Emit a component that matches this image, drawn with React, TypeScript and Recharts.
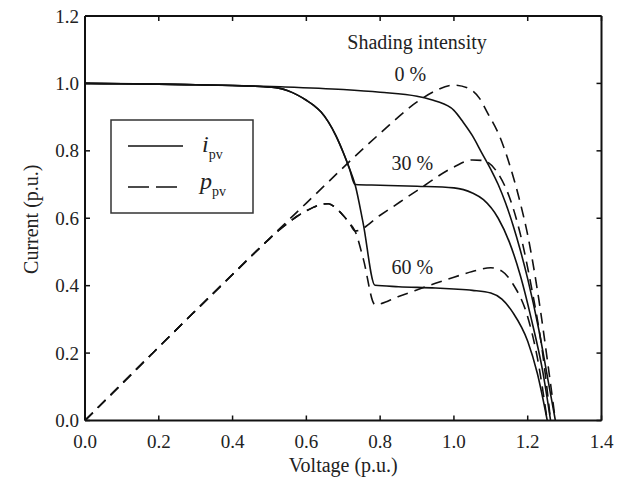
import React from "react";
import { LineChart, Line, XAxis, YAxis, ReferenceDot } from "recharts";

// voltage (p.u.), value pairs
const kneeI = [
  [0, 1.0], [0.1, 0.999], [0.2, 0.998], [0.3, 0.996], [0.4, 0.994], [0.45, 0.992],
  [0.5, 0.989], [0.525, 0.986], [0.55, 0.978], [0.575, 0.966], [0.6, 0.95], [0.62, 0.935],
  [0.64, 0.915], [0.66, 0.885], [0.68, 0.845], [0.7, 0.795], [0.716, 0.75], [0.732, 0.7],
];
const kneeP = [
  [0, 0], [0.1, 0.109], [0.2, 0.218], [0.3, 0.326], [0.4, 0.433], [0.45, 0.487],
  [0.5, 0.539], [0.525, 0.564], [0.55, 0.586], [0.575, 0.606], [0.6, 0.622], [0.62, 0.633],
  [0.64, 0.641], [0.66, 0.643], [0.68, 0.63], [0.7, 0.608], [0.716, 0.587], [0.732, 0.562],
];

const i0 = [
  [0, 1.0], [0.2, 0.998], [0.4, 0.994], [0.53, 0.99], [0.7, 0.982], [0.8, 0.974],
  [0.9, 0.962], [0.95, 0.948], [1.0, 0.92], [1.025, 0.885], [1.05, 0.845], [1.075, 0.795],
  [1.1, 0.745], [1.12, 0.7], [1.14, 0.645], [1.16, 0.58], [1.18, 0.505], [1.2, 0.42],
  [1.23, 0.27], [1.255, 0.12], [1.275, 0],
];
const i30 = [
  ...kneeI,
  [0.8, 0.698], [0.9, 0.695], [1.0, 0.69], [1.05, 0.675], [1.08, 0.655], [1.12, 0.6],
  [1.15, 0.53], [1.18, 0.43], [1.21, 0.3], [1.24, 0.15], [1.262, 0],
];
const i60 = [
  ...kneeI,
  [0.754, 0.585], [0.786, 0.401], [0.85, 0.397], [0.95, 0.393], [1.0, 0.39], [1.05, 0.386],
  [1.1, 0.378], [1.13, 0.36], [1.16, 0.32], [1.2, 0.235], [1.226, 0.14], [1.253, 0],
];

const p0 = [
  [0, 0], [0.2, 0.218], [0.4, 0.434], [0.6, 0.645], [0.8, 0.852], [0.9, 0.945],
  [0.95, 0.978], [1.0, 0.995], [1.04, 0.985], [1.07, 0.955], [1.09, 0.915], [1.125, 0.84],
  [1.152, 0.755], [1.18, 0.645], [1.2, 0.55], [1.23, 0.36], [1.255, 0.165], [1.275, 0],
];
const p30 = [
  ...kneeP,
  [0.8, 0.609], [0.9, 0.682], [1.0, 0.752], [1.05, 0.773], [1.08, 0.771], [1.12, 0.732],
  [1.15, 0.664], [1.18, 0.553], [1.21, 0.396], [1.24, 0.203], [1.262, 0],
];
const p60 = [
  ...kneeP,
  [0.754, 0.481], [0.786, 0.344], [0.85, 0.368], [0.95, 0.407], [1.0, 0.425], [1.05, 0.442],
  [1.1, 0.453], [1.13, 0.443], [1.16, 0.405], [1.2, 0.307], [1.226, 0.187], [1.253, 0],
];

const xTicks = [0, 0.2, 0.4, 0.6, 0.8, 1.0, 1.2, 1.4];
const yTicks = [0, 0.2, 0.4, 0.6, 0.8, 1.0, 1.2];
const shadeLabels = [
  { text: "0 %", v: 0.882, y: 1.027 },
  { text: "30 %", v: 0.887, y: 0.765 },
  { text: "60 %", v: 0.887, y: 0.455 },
];

const toRows = (pts: number[][]) => pts.map(([v, y]) => ({ v, y }));

const serif = '"Liberation Serif", "Times New Roman", serif';
const ink = "#111";
const textInk = "#222";

function BottomTick(props: any) {
  const { x, y, payload } = props;
  return (
    <g>
      <line x1={x} y1={y} x2={x} y2={y - 5} stroke={ink} strokeWidth={1.5} />
      <text x={x} y={y + 27} textAnchor="middle" fontSize={19} fontFamily={serif} fill={textInk}>
        {Number(payload.value).toFixed(1)}
      </text>
    </g>
  );
}

function LeftTick(props: any) {
  const { x, y, payload } = props;
  return (
    <g>
      <line x1={x} y1={y} x2={x + 5} y2={y} stroke={ink} strokeWidth={1.5} />
      <text x={x - 6} y={y + 6.5} textAnchor="end" fontSize={19} fontFamily={serif} fill={textInk}>
        {Number(payload.value).toFixed(1)}
      </text>
    </g>
  );
}

function TopTick(props: any) {
  const { x, y } = props;
  return <line x1={x} y1={y} x2={x} y2={y + 5} stroke={ink} strokeWidth={1.5} />;
}

function RightTick(props: any) {
  const { x, y } = props;
  return <line x1={x} y1={y} x2={x - 5} y2={y} stroke={ink} strokeWidth={1.5} />;
}

function YTitle(props: any) {
  const vb = props.viewBox || { x: 0, y: 0, height: 0 };
  const cx = vb.x + 31;
  const cy = vb.y + vb.height / 2 + 1;
  return (
    <text x={cx} y={cy} transform={`rotate(-90 ${cx} ${cy})`} textAnchor="middle"
      dominantBaseline="central" fontSize={20} fontFamily={serif} fill={textInk}>
      Current (p.u.)
    </text>
  );
}

function XTitle(props: any) {
  const vb = props.viewBox || { x: 0, y: 0, width: 0, height: 0 };
  return (
    <text x={vb.x + vb.width / 2} y={vb.y + vb.height - 6} textAnchor="middle"
      fontSize={20} fontFamily={serif} fill={textInk}>
      Voltage (p.u.)
    </text>
  );
}

function LegendBox() {
  return (
    <svg width={144} height={95} style={{ position: "absolute", left: 110, top: 119 }}>
      <rect x={1} y={1} width={142} height={93} fill="#fff" stroke="#333" strokeWidth={1.5} />
      <line x1={18} y1={27} x2={73} y2={27} stroke={ink} strokeWidth={1.6} />
      <line x1={18} y1={68} x2={67} y2={68} stroke={ink} strokeWidth={1.6} strokeDasharray="21 7" />
      <text x={92} y={33} fontSize={24} fontStyle="italic" fontFamily={serif} fill={textInk}>
        i
        <tspan fontSize={14} fontStyle="normal" dy={7}>pv</tspan>
      </text>
      <text x={90} y={70} fontSize={24} fontStyle="italic" fontFamily={serif} fill={textInk}>
        p
        <tspan fontSize={14} fontStyle="normal" dy={7}>pv</tspan>
      </text>
    </svg>
  );
}

const solid = { stroke: ink, strokeWidth: 1.6 };
const dashed = { stroke: ink, strokeWidth: 1.6, strokeDasharray: "11 7" };

export default function App() {
  const series = [
    { key: "i0", pts: i0, style: solid },
    { key: "i30", pts: i30, style: solid },
    { key: "i60", pts: i60, style: solid },
    { key: "p0", pts: p0, style: dashed },
    { key: "p30", pts: p30, style: dashed },
    { key: "p60", pts: p60, style: dashed },
  ];
  const annot = { position: "center" as const, fontSize: 20, fontFamily: serif, fill: textInk };
  return (
    <div style={{ position: "absolute", left: 0, top: 0, width: 629, height: 478, background: "#fff" }}>
      <LineChart width={629} height={478} margin={{ top: 0, right: 0, bottom: 0, left: 0 }}>
        <XAxis xAxisId="b" type="number" dataKey="v" domain={[0, 1.4]} ticks={xTicks}
          allowDataOverflow height={57.5} tickSize={0} tickMargin={0} tick={<BottomTick />}
          axisLine={{ stroke: ink, strokeWidth: 2 }} label={<XTitle />} />
        <XAxis xAxisId="t" orientation="top" type="number" dataKey="v" domain={[0, 1.4]}
          ticks={xTicks} allowDataOverflow height={16} tickSize={0} tickMargin={0}
          tick={<TopTick />} axisLine={{ stroke: ink, strokeWidth: 2 }} />
        <YAxis yAxisId="l" type="number" domain={[0, 1.2]} ticks={yTicks} allowDataOverflow
          width={85} tickSize={0} tickMargin={0} tick={<LeftTick />}
          axisLine={{ stroke: ink, strokeWidth: 2 }} label={<YTitle />} />
        <YAxis yAxisId="r" orientation="right" type="number" domain={[0, 1.2]} ticks={yTicks}
          allowDataOverflow width={27.5} tickSize={0} tickMargin={0} tick={<RightTick />}
          axisLine={{ stroke: ink, strokeWidth: 2 }} />
        {series.map((s) => (
          <Line key={s.key} xAxisId="b" yAxisId="l" data={toRows(s.pts)} dataKey="y"
            type="monotone" dot={false} activeDot={false} isAnimationActive={false}
            {...s.style} />
        ))}
        <ReferenceDot xAxisId="b" yAxisId="l" x={0.9} y={1.122} r={0} fill="none" stroke="none"
          label={{ value: "Shading intensity", ...annot }} />
        {shadeLabels.map((l) => (
          <ReferenceDot key={l.text} xAxisId="b" yAxisId="l" x={l.v} y={l.y} r={0} fill="none"
            stroke="none" label={{ value: l.text, ...annot }} />
        ))}
      </LineChart>
      <LegendBox />
    </div>
  );
}
